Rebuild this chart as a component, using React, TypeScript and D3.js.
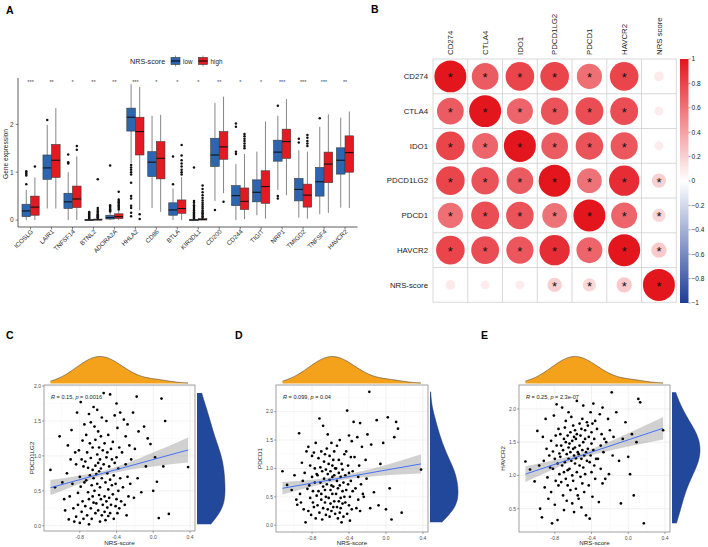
import React from 'react';
import * as d3 from 'd3';

const FONT = "'Liberation Sans', Arial, Helvetica, sans-serif";

// ---------- Panel A: checkpoint gene expression by NRS-score group ----------
const genes = ['ICOSLG', 'LAIR1', 'TNFSF14', 'BTNL2', 'ADORA2A', 'HHLA2', 'CD86', 'BTLA', 'KIR3DL1', 'CD200', 'CD244', 'TIGIT', 'NRP1', 'TMIGD2', 'TNFSF4', 'HAVCR2'];
const sigLabels = ['***', '**', '*', '**', '**', '***', '*', '*', '*', '**', '*', '*', '***', '***', '***', '**'];

const lowWhiskerLo = [0, 0.24, 0, 0, 0, 1.19, 0.25, 0, 0, 0.4, 0, 0.1, 0.63, 0.05, 0.12, 0.26];
const lowQ1 = [0.07, 0.85, 0.24, 0, 0.02, 1.86, 0.91, 0.1, 0, 1.12, 0.3, 0.38, 1.23, 0.4, 0.5, 0.96];
const lowMedian = [0.19, 1.09, 0.38, 0, 0.05, 2.15, 1.21, 0.21, 0, 1.36, 0.51, 0.58, 1.42, 0.64, 0.8, 1.25];
const lowQ3 = [0.33, 1.36, 0.56, 0.01, 0.1, 2.34, 1.43, 0.36, 0.01, 1.71, 0.72, 0.84, 1.67, 0.87, 1.1, 1.51];
const lowWhiskerHi = [0.63, 1.99, 1.0, 0.02, 0.16, 2.84, 2.18, 0.66, 0.02, 2.45, 1.17, 1.43, 2.18, 1.46, 1.95, 2.14];
const lowOutliers = [
  [1.02, 0.99, 0.96, 0.93, 0.75], [2.09], [1.37, 1.21, 1.18],
  [0.03, 0.05, 0.07, 0.09, 0.11, 0.13, 0.15, 0.17],
  [0.18, 0.2, 0.22, 0.25, 0.28, 0.31, 1.14],
  [1.15, 1.1, 1.05, 1.0, 0.95, 0.78, 0.5, 0.45, 0.3, 0.25, 0.15, 0.08],
  [], [0.75, 1.33],
  [0.03, 0.05, 0.07, 0.09, 0.11, 0.13, 0.15, 0.17, 0.2, 0.23, 0.27, 0.31, 0.36, 0.4, 1.1],
  [0.21], [1.38, 1.43, 1.95, 2.02], [], [2.39, 0.5, 0.45], [1.62, 1.7], [2.13], [],
];

const highWhiskerLo = [0, 0.24, 0, 0, 0, 0.2, 0.17, 0, 0, 0.56, 0.02, 0.03, 0.52, 0.03, 0.15, 0.25];
const highQ1 = [0.1, 0.89, 0.26, 0, 0.03, 1.36, 0.86, 0.14, 0, 1.27, 0.22, 0.35, 1.29, 0.27, 0.78, 1.0];
const highMedian = [0.27, 1.25, 0.44, 0.005, 0.07, 1.85, 1.29, 0.24, 0.01, 1.53, 0.39, 0.7, 1.64, 0.52, 1.17, 1.41];
const highQ3 = [0.5, 1.58, 0.71, 0.02, 0.13, 2.15, 1.64, 0.42, 0.03, 1.85, 0.67, 1.03, 1.9, 0.75, 1.42, 1.76];
const highWhiskerHi = [0.89, 2.34, 1.33, 0.03, 0.2, 2.78, 2.2, 0.9, 0.04, 2.58, 1.38, 2.06, 2.53, 1.43, 2.21, 2.27];
const highOutliers = [
  [1.12], [], [1.55, 1.47],
  [0.04, 0.06, 0.08, 0.1, 0.12, 0.15, 0.18, 0.21, 0.25, 0.85],
  [0.22, 0.25, 0.28, 0.31, 0.34, 0.37, 0.4, 0.43, 0.59],
  [0.12, 0.02], [], [0.95, 1.0, 1.05, 1.12, 1.18, 1.25, 1.35, 1.57],
  [0.05, 0.08, 0.11, 0.14, 0.17, 0.2, 0.24, 0.28, 0.32, 0.36, 0.41, 0.46, 0.52, 0.58, 0.65, 0.72],
  [0.38], [1.5, 1.55, 1.6, 1.65, 1.7, 1.75, 1.8], [], [], [1.55, 1.6, 1.65, 1.72, 1.78], [], [],
];
const groupNames = ['low', 'high'];
const groupColors = ['#2C66B0', '#E31A22'];

// ---------- Panel B: correlation matrix ----------
const corrRows = ['CD274', 'CTLA4', 'IDO1', 'PDCD1LG2', 'PDCD1', 'HAVCR2', 'NRS-score'];
const corrCols = ['CD274', 'CTLA4', 'IDO1', 'PDCD1LG2', 'PDCD1', 'HAVCR2', 'NRS score'];
const corrValues = [
  [1, 0.7, 0.8, 0.8, 0.62, 0.8, 0.09],
  [0.7, 1, 0.66, 0.74, 0.76, 0.76, 0.08],
  [0.8, 0.66, 1, 0.7, 0.74, 0.72, 0.08],
  [0.8, 0.74, 0.7, 1, 0.6, 0.9, 0.2],
  [0.62, 0.76, 0.74, 0.6, 1, 0.66, 0.17],
  [0.8, 0.76, 0.72, 0.9, 0.66, 1, 0.23],
  [0.09, 0.08, 0.08, 0.2, 0.17, 0.23, 1],
];
const corrSignificant = [
  [1, 1, 1, 1, 1, 1, 0],
  [1, 1, 1, 1, 1, 1, 0],
  [1, 1, 1, 1, 1, 1, 0],
  [1, 1, 1, 1, 1, 1, 1],
  [1, 1, 1, 1, 1, 1, 1],
  [1, 1, 1, 1, 1, 1, 1],
  [0, 0, 0, 1, 1, 1, 1],
];
const legendTicks = [1, 0.8, 0.6, 0.4, 0.2, 0, -0.2, -0.4, -0.6, -0.8, -1];

// ---------- Panels C-E: NRS-score vs checkpoint genes (same samples) ----------
const nrsScore = [
  -1.12, -1.07,
  -1.02, -0.99, -0.97, -0.96,
  -0.94, -0.93, -0.92, -0.91, -0.9, -0.89, -0.88, -0.87, -0.86, -0.85,
  -0.84, -0.84, -0.83, -0.82, -0.82, -0.81, -0.8, -0.8, -0.79, -0.79, -0.78, -0.78, -0.77, -0.77, -0.76, -0.76, -0.75, -0.75,
  -0.74, -0.74, -0.73, -0.73, -0.72, -0.72, -0.71, -0.71, -0.7, -0.7, -0.7, -0.69, -0.69, -0.68, -0.68, -0.68, -0.67, -0.67, -0.66, -0.66, -0.66, -0.65, -0.65, -0.65,
  -0.64, -0.64, -0.63, -0.63, -0.63, -0.62, -0.62, -0.61, -0.61, -0.61, -0.6, -0.6, -0.6, -0.59, -0.59, -0.59, -0.58, -0.58, -0.58, -0.57, -0.57, -0.57, -0.56, -0.56, -0.56, -0.55, -0.55,
  -0.54, -0.54, -0.53, -0.53, -0.53, -0.52, -0.52, -0.51, -0.51, -0.51, -0.5, -0.5, -0.5, -0.49, -0.49, -0.49, -0.48, -0.48, -0.47, -0.47, -0.47, -0.46, -0.46, -0.45, -0.45,
  -0.44, -0.44, -0.43, -0.43, -0.42, -0.42, -0.41, -0.41, -0.4, -0.4, -0.4, -0.39, -0.39, -0.38, -0.38, -0.37, -0.37, -0.36, -0.36, -0.35,
  -0.34, -0.33, -0.32, -0.31, -0.3, -0.3, -0.29, -0.28, -0.28, -0.27, -0.26, -0.25,
  -0.24, -0.22, -0.21, -0.2, -0.18, -0.17, -0.16,
  -0.13, -0.1, -0.08, -0.06,
  -0.03, 0.0, 0.02, 0.04,
  0.06, 0.09, 0.11, 0.13,
  0.17, 0.38,
];
const pdcd1lg2 = [
  0.8, 0.55,
  1.28, 0.62, 0.38, 0.22,
  0.75, 1.15, 0.09, 0.42, 0.95, 1.37, 0.6, 0.25, 0.06, 1.05,
  0.13, 0.88, 1.62, 0.47, 0.3, 1.08, 0.7, 0.04, 1.77, 0.56, 0.95, 0.2, 0.35, 1.22, 0.85, 0.1, 0.62, 1.45,
  0.92, 0.28, 1.3, 0.65, 0.15, 1.05, 0.48, 0.83, 1.6, 0.38, 0.02, 1.18, 0.72, 0.25, 0.97, 1.48, 0.58, 0.1, 1.12, 0.8, 0.42, 1.7, 0.33, 0.68,
  1.42, 0.5, 0.86, 0.18, 1.23, 0.74, 0.32, 1.02, 0.6, 1.66, 0.9, 0.22, 1.35, 0.44, 0.78, 1.12, 0.06, 0.95, 0.55, 1.28, 0.38, 0.82, 1.55, 0.15, 0.68, 1.08, 0.3,
  0.88, 1.9, 0.42, 0.2, 1.18, 0.62, 0.08, 0.98, 0.35, 1.5, 0.75, 0.26, 1.05, 0.52, 0.14, 1.3, 0.85, 0.4, 1.88, 0.66, 0.18, 1.1, 0.3, 0.58, 0.95,
  0.45, 1.2, 0.72, 0.1, 1.58, 0.9, 0.28, 0.6, 1.75, 0.38, 0.98, 0.18, 1.4, 0.82, 0.5, 1.12, 0.25, 0.68, 1.62, 0.35,
  1.05, 0.55, 1.52, 0.3, 0.88, 1.28, 0.15, 0.7, 1.45, 0.42, 1.15, 0.6,
  0.95, 1.62, 0.4, 1.1, 1.85, 0.68, 1.35,
  0.48, 1.42, 0.85, 1.25,
  1.17, 0.5, 0.98, 0.63,
  0.11, 1.82, 0.85, 1.5,
  0.17, 0.84,
];
const pdcd1 = [
  0.95, 0.71,
  0.62, 0.88, 0.45, 0.36,
  1.62, 0.55, 0.4, 1.1, 0.78, 0.28, 0.92, 0.05, 1.3, 0.64,
  1.38, 0.25, 0.7, 1.05, 0.48, 0.18, 0.85, 1.22, 0.4, 0.6, 1.28, 0.32, 1.0, 0.75, 0.12, 1.45, 0.52, 0.9,
  0.88, 0.35, 1.18, 0.6, 1.88, 0.22, 1.02, 0.75, 0.45, 1.3, 0.55, 0.1, 0.95, 1.75, 0.68, 0.3, 1.12, 0.82, 0.4, 1.25, 0.62, 0.18, 0.98, 0.5,
  0.72, 1.35, 0.28, 0.9, 1.6, 0.48, 1.08, 0.8, 0.15, 1.22, 0.62, 0.95, 0.38, 1.45, 0.7, 0.25, 1.05, 0.55, 0.85, 0.32, 1.15, 0.68, 0.42, 1.3, 0.88, 0.2, 1.0,
  0.55, 1.0, 0.32, 0.78, 1.4, 0.12, 0.65, 1.15, 0.42, 0.92, 0.22, 0.7, 1.5, 0.3, 0.85, 0.48, 0.05, 1.08, 0.6, 0.38, 0.98, 0.15, 0.75, 1.25, 0.5,
  0.88, 0.4, 1.3, 0.62, 2.02, 0.2, 1.05, 0.72, 0.35, 1.58, 0.92, 0.5, 0.08, 1.2, 0.78, 0.28, 1.48, 0.95, 0.6, 1.82,
  1.2, 0.65, 0.3, 1.55, 0.85, 0.45, 1.05, 1.8, 0.25, 0.72, 1.38, 0.55,
  0.5, 1.15, 0.82, 1.6, 2.35, 0.3, 1.42,
  0.58, 1.85, 0.35, 1.08,
  1.45, 0.28, 1.9, 0.65,
  0.1, 1.55, 1.82, 1.7,
  0.22, 0.98,
];
const havcr2 = [
  1.21, 1.09,
  0.91, 1.67, 1.15, 0.5,
  0.37, 1.58, 1.22, 0.82, 1.85, 1.4, 0.97, 0.65, 1.3, 1.12,
  1.52, 0.75, 0.28, 1.36, 1.1, 1.9, 0.56, 1.25, 1.6, 0.92, 2.07, 1.45, 0.33, 1.18, 1.7, 0.85, 1.33, 1.02,
  1.28, 1.62, 0.9, 1.45, 1.15, 2.02, 0.7, 1.38, 1.55, 1.05, 0.48, 1.72, 1.2, 0.95, 1.5, 1.82, 1.32, 0.62, 1.08, 1.6, 0.85, 1.42, 1.25, 1.95,
  1.48, 1.1, 1.65, 0.78, 1.35, 1.88, 1.22, 0.58, 1.52, 1.0, 1.4, 1.75, 0.92, 1.3, 1.58, 0.45, 1.18, 1.68, 1.42, 0.8, 1.55, 1.26, 2.12, 1.05, 1.62, 1.35, 0.7,
  1.32, 0.65, 1.78, 1.15, 1.45, 0.98, 1.6, 1.25, 0.52, 1.7, 1.38, 1.85, 0.88, 1.5, 1.12, 2.05, 1.3, 0.75, 1.55, 1.02, 1.68, 0.4, 1.35, 1.22, 1.8,
  1.4, 1.75, 0.85, 1.58, 1.2, 0.35, 1.95, 1.3, 1.65, 1.05, 1.48, 0.68, 1.78, 1.38, 2.08, 1.15, 1.55, 0.95, 1.82, 1.25,
  1.7, 1.25, 0.6, 1.92, 1.45, 1.1, 1.62, 0.88, 2.02, 1.35, 1.55, 0.95,
  1.5, 1.85, 1.02, 1.68, 2.25, 1.3, 1.58,
  1.95, 1.22, 0.58, 1.55,
  1.8, 1.28, 1.02, 1.62,
  0.7, 1.5, 2.15, 2.1,
  0.28, 1.68,
];

// fitted lm line (ends) and 95% band half widths
const fitX = [-1.12, -0.8, -0.55, -0.3, 0.0, 0.38];
const fitPdcd1lg2 = [0.545, 1.085];
const bandPdcd1lg2 = [0.11, 0.06, 0.035, 0.05, 0.1, 0.18];
const fitPdcd1 = [0.65, 1.08];
const bandPdcd1 = [0.11, 0.06, 0.04, 0.05, 0.09, 0.17];
const fitHavcr2 = [1.02, 1.71];
const bandHavcr2 = [0.12, 0.065, 0.04, 0.055, 0.1, 0.17];

// gaussian kernel density over the data range (nrd0 bandwidth, widened a bit for the smaller sample)
function kde(values: number[], adjust = 1.5, n = 128) {
  const sd = d3.deviation(values) as number;
  const iqr = (d3.quantile(values, 0.75) as number) - (d3.quantile(values, 0.25) as number);
  const bw = adjust * 0.9 * Math.min(sd, iqr / 1.34) * Math.pow(values.length, -0.2);
  const [lo, hi] = d3.extent(values) as [number, number];
  return d3.range(n).map(i => {
    const g = lo + ((hi - lo) * i) / (n - 1);
    const d = (d3.mean(values, v => Math.exp(-0.5 * ((g - v) / bw) ** 2)) as number) / bw;
    return [g, d] as [number, number];
  });
}

const PanelA = () => {
  const x = d3.scalePoint<string>().domain(genes).range([18, 357.6]).padding(0.6);
  const y = d3.scaleLinear().domain([-0.146, 2.97]).range([227, 78]);
  const step = x.step();
  const hw = 0.205 * step;
  const groups = [
    { lo: lowWhiskerLo, q1: lowQ1, med: lowMedian, q3: lowQ3, hi: lowWhiskerHi, out: lowOutliers },
    { lo: highWhiskerLo, q1: highQ1, med: highMedian, q3: highQ3, hi: highWhiskerHi, out: highOutliers },
  ];
  return (
    <g fontFamily={FONT}>
      <text x={6} y={13.5} fontSize={10.5} fontWeight="bold">A</text>
      {/* legend */}
      <text x={130} y={63.5} fontSize={7.2} fill="#222">NRS-score</text>
      {groupNames.map((g, i) => {
        const kx = i === 0 ? 171 : 198.5;
        return (
          <g key={g}>
            <line x1={kx + 4.5} x2={kx + 4.5} y1={55.5} y2={66.5} stroke="#555" strokeWidth={0.6} />
            <rect x={kx} y={57.5} width={9} height={7} fill={groupColors[i]} stroke="#333" strokeWidth={0.6} />
            <line x1={kx} x2={kx + 9} y1={61} y2={61} stroke="#000" strokeWidth={1} />
            <text x={kx + 12} y={63.5} fontSize={6.3} fill="#222">{g}</text>
          </g>
        );
      })}
      {/* axes */}
      <line x1={18} x2={18} y1={78} y2={227} stroke="#333" strokeWidth={0.8} />
      <line x1={18} x2={357.6} y1={227} y2={227} stroke="#333" strokeWidth={0.8} />
      {[0, 1, 2].map(t => (
        <g key={t}>
          <line x1={15.5} x2={18} y1={y(t)} y2={y(t)} stroke="#333" strokeWidth={0.6} />
          <text x={13.5} y={y(t) + 2.3} fontSize={6.5} textAnchor="end" fill="#333">{t}</text>
        </g>
      ))}
      <text transform="translate(7.5,154) rotate(-90)" fontSize={6.6} textAnchor="middle" fill="#222">Gene expression</text>
      {genes.map((g, gi) => {
        const cx = x(g) as number;
        return (
          <g key={g}>
            <line x1={cx} x2={cx} y1={227} y2={229.5} stroke="#333" strokeWidth={0.6} />
            <text transform={`translate(${cx + 3},${232}) rotate(-45)`} fontSize={6.3} textAnchor="end" fill="#2b2b2b">{g}</text>
            <text x={cx} y={84} fontSize={5.5} textAnchor="middle" fill="#444">{sigLabels[gi]}</text>
            {groups.map((s, k) => {
              const bx = cx + (k === 0 ? -hw : hw);
              return (
                <g key={k}>
                  <line x1={bx} x2={bx} y1={y(s.hi[gi])} y2={y(s.q3[gi])} stroke="#666" strokeWidth={0.8} />
                  <line x1={bx} x2={bx} y1={y(s.q1[gi])} y2={y(s.lo[gi])} stroke="#666" strokeWidth={0.8} />
                  <rect x={bx - hw} y={y(s.q3[gi])} width={2 * hw} height={Math.max(0.8, y(s.q1[gi]) - y(s.q3[gi]))}
                    fill={groupColors[k]} stroke="#3a3a3a" strokeWidth={0.6} />
                  <line x1={bx - hw} x2={bx + hw} y1={y(s.med[gi])} y2={y(s.med[gi])} stroke="#111" strokeWidth={1.1} />
                  {s.out[gi].map((o, j) => (
                    <circle key={j} cx={bx} cy={y(o)} r={1.25} fill="#111" />
                  ))}
                </g>
              );
            })}
          </g>
        );
      })}
    </g>
  );
};

const PanelB = () => {
  const cx = d3.scaleBand().domain(corrCols).range([433, 676.3]);
  const cy = d3.scaleBand().domain(corrRows).range([59, 302.3]);
  const bw = cx.bandwidth();
  const color = d3.scaleLinear<string>().domain([-1, 0, 1]).range(['#1E3C96', '#FFFFFF', '#E3161E']);
  const ly = d3.scaleLinear().domain([-1, 1]).range([303, 59]);
  const stops = d3.range(-1, 1.0001, 0.1);
  return (
    <g fontFamily={FONT}>
      <text x={371} y={12.5} fontSize={10.5} fontWeight="bold">B</text>
      <defs>
        <linearGradient id="corrGrad" x1="0" x2="0" y1="1" y2="0">
          {stops.map((s, i) => (
            <stop key={i} offset={`${((s + 1) / 2) * 100}%`} stopColor={color(s)} />
          ))}
        </linearGradient>
      </defs>
      {corrRows.map((r, i) =>
        corrCols.map((c, j) => {
          const v = corrValues[i][j];
          const px = (cx(c) as number) + bw / 2;
          const py = (cy(r) as number) + bw / 2;
          return (
            <g key={`${i}-${j}`}>
              <circle cx={px} cy={py} r={(0.92 * bw * Math.sqrt(Math.abs(v))) / 2} fill={color(v)} />
              {corrSignificant[i][j] ? (
                <text x={px} y={py + 6} fontSize={13} textAnchor="middle" fill="#111">*</text>
              ) : null}
            </g>
          );
        })
      )}
      {d3.range(corrCols.length + 1).map(k => (
        <g key={k}>
          <line x1={433 + k * bw} x2={433 + k * bw} y1={59} y2={302.3} stroke="#CFCFCF" strokeWidth={0.8} />
          <line x1={433} x2={676.3} y1={59 + k * bw} y2={59 + k * bw} stroke="#CFCFCF" strokeWidth={0.8} />
        </g>
      ))}
      {corrRows.map(r => (
        <text key={r} x={428} y={(cy(r) as number) + bw / 2 + 2.8} fontSize={7.8} textAnchor="end" fill="#222">{r}</text>
      ))}
      {corrCols.map(c => (
        <text key={c} transform={`translate(${(cx(c) as number) + bw / 2 + 2.8},55) rotate(-90)`} fontSize={7.8} fill="#222">{c}</text>
      ))}
      <rect x={680} y={59} width={8.5} height={244} fill="url(#corrGrad)" />
      {legendTicks.map(t => (
        <g key={t}>
          <line x1={688.5} x2={690.5} y1={ly(t)} y2={ly(t)} stroke="#444" strokeWidth={0.5} />
          <text x={691.5} y={ly(t) + 2.4} fontSize={6.6} fill="#222">{t < 0 ? `\u2212${Math.abs(t)}` : `${t}`}</text>
        </g>
      ))}
    </g>
  );
};

type ScatterProps = {
  letter: string; letterX: number;
  x0: number; x1: number; y0: number; y1: number;
  yDomain: [number, number]; yTicks: number[]; yTitle: string; yTitleX: number;
  ys: number[]; fit: number[]; band: number[]; rText: string; pText: string;
};

const Scatter = (p: ScatterProps) => {
  const x = d3.scaleLinear().domain([-1.19, 0.455]).range([p.x0, p.x1]);
  const y = d3.scaleLinear().domain(p.yDomain).range([p.y1, p.y0]);
  const xTicks = [-0.8, -0.4, 0, 0.4];
  const xMinor = [-1.0, -0.6, -0.2, 0.2];
  const yMinor = p.yTicks.map(t => t - 0.25).filter(t => t > p.yDomain[0]).concat([p.yTicks[p.yTicks.length - 1] + 0.25].filter(t => t < p.yDomain[1]));
  const n = Math.min(nrsScore.length, p.ys.length);
  const pts = d3.range(n).map(i => [nrsScore[i], p.ys[i]]);
  const fitLine = d3.scaleLinear().domain([fitX[0], fitX[fitX.length - 1]]).range(p.fit);
  const bandArea = d3.area<number>()
    .x((_, i) => x(fitX[i]))
    .y0((d, i) => y(fitLine(fitX[i]) - d))
    .y1((d, i) => y(fitLine(fitX[i]) + d))
    .curve(d3.curveMonotoneX);
  // marginal densities
  const dx = kde(nrsScore.slice(0, n), 1.6);
  const dy = kde(p.ys.slice(0, n), 1.3);
  const mx = d3.max(dx, d => d[1]) as number;
  const my = d3.max(dy, d => d[1]) as number;
  const topBase = p.y0 - 1.5;
  const topArea = d3.area<[number, number]>().x(d => x(d[0])).y0(topBase).y1(d => topBase - (d[1] / mx) * 27).curve(d3.curveBasis);
  const topLine = d3.line<[number, number]>().x(d => x(d[0])).y(d => topBase - (d[1] / mx) * 27).curve(d3.curveBasis);
  const rightBase = p.x1 + 2;
  const rightArea = d3.area<[number, number]>().y(d => y(d[0])).x0(rightBase).x1(d => rightBase + (d[1] / my) * 28).curve(d3.curveBasis);
  const rightLine = d3.line<[number, number]>().y(d => y(d[0])).x(d => rightBase + (d[1] / my) * 28).curve(d3.curveBasis);
  const fmt = (t: number) => (t === 0 ? '0.0' : t.toFixed(1));
  return (
    <g fontFamily={FONT}>
      <text x={p.letterX} y={338.5} fontSize={10.5} fontWeight="bold">{p.letter}</text>
      <path d={topArea(dx) as string} fill="#F4A21C" />
      <path d={topLine(dx) as string} fill="none" stroke="#333" strokeWidth={0.5} />
      <path d={rightArea(dy) as string} fill="#22489C" />
      <path d={rightLine(dy) as string} fill="none" stroke="#333" strokeWidth={0.5} />
      <rect x={p.x0} y={p.y0} width={p.x1 - p.x0} height={p.y1 - p.y0} fill="#fff" />
      {xMinor.map(t => <line key={`xm${t}`} x1={x(t)} x2={x(t)} y1={p.y0} y2={p.y1} stroke="#F4F4F4" strokeWidth={0.4} />)}
      {yMinor.map(t => <line key={`ym${t}`} y1={y(t)} y2={y(t)} x1={p.x0} x2={p.x1} stroke="#F4F4F4" strokeWidth={0.4} />)}
      {xTicks.map(t => <line key={`xg${t}`} x1={x(t)} x2={x(t)} y1={p.y0} y2={p.y1} stroke="#E8E8E8" strokeWidth={0.6} />)}
      {p.yTicks.map(t => <line key={`yg${t}`} y1={y(t)} y2={y(t)} x1={p.x0} x2={p.x1} stroke="#E8E8E8" strokeWidth={0.6} />)}
      <path d={bandArea(p.band) as string} fill="#999" fillOpacity={0.45} />
      {pts.map((d, i) => <circle key={i} cx={x(d[0])} cy={y(d[1])} r={1.35} fill="#000" />)}
      <line x1={x(fitX[0])} x2={x(fitX[fitX.length - 1])} y1={y(p.fit[0])} y2={y(p.fit[1])} stroke="#3366FF" strokeWidth={0.9} />
      <rect x={p.x0} y={p.y0} width={p.x1 - p.x0} height={p.y1 - p.y0} fill="none" stroke="#8A8A8A" strokeWidth={0.8} />
      <text x={p.x0 + 7} y={399} fontSize={5.6} fill="#222">
        <tspan fontStyle="italic">R</tspan> = {p.rText}, <tspan fontStyle="italic">p</tspan> = {p.pText}
      </text>
      {xTicks.map(t => (
        <g key={`xt${t}`}>
          <line x1={x(t)} x2={x(t)} y1={p.y1} y2={p.y1 + 2} stroke="#555" strokeWidth={0.5} />
          <text x={x(t)} y={p.y1 + 7.5} fontSize={5} textAnchor="middle" fill="#4D4D4D">{t < 0 ? `-${Math.abs(t).toFixed(1)}` : fmt(t)}</text>
        </g>
      ))}
      {p.yTicks.map(t => (
        <g key={`yt${t}`}>
          <line x1={p.x0 - 2} x2={p.x0} y1={y(t)} y2={y(t)} stroke="#555" strokeWidth={0.5} />
          <text x={p.x0 - 3} y={y(t) + 1.8} fontSize={5} textAnchor="end" fill="#4D4D4D">{fmt(t)}</text>
        </g>
      ))}
      <text x={(p.x0 + p.x1) / 2} y={545} fontSize={6.2} textAnchor="middle" fill="#222">NRS-score</text>
      <text transform={`translate(${p.yTitleX},${(p.y0 + p.y1) / 2}) rotate(-90)`} fontSize={6.2} textAnchor="middle" fill="#222">{p.yTitle}</text>
    </g>
  );
};

export default function App() {
  return (
    <div style={{ position: 'absolute', left: 0, top: 0, background: '#fff' }}>
      <svg width={708} height={547} viewBox="0 0 708 547" style={{ display: 'block' }}>
        <rect width={708} height={547} fill="#fff" />
        <PanelA />
        <PanelB />
        <Scatter letter="C" letterX={6} x0={44} x1={195} y0={385} y1={531} yDomain={[-0.075, 2.015]}
          yTicks={[0, 0.5, 1, 1.5, 2]} yTitle="PDCD1LG2" yTitleX={34} ys={pdcd1lg2}
          fit={fitPdcd1lg2} band={bandPdcd1lg2} rText="0.15" pText="0.0016" />
        <Scatter letter="D" letterX={235} x0={276} x1={428} y0={385} y1={532} yDomain={[-0.12, 2.47]}
          yTicks={[0, 0.5, 1, 1.5, 2]} yTitle="PDCD1" yTitleX={262} ys={pdcd1}
          fit={fitPdcd1} band={bandPdcd1} rText="0.099" pText="0.04" />
        <Scatter letter="E" letterX={481} x0={519} x1={670} y0={385} y1={532} yDomain={[0.15, 2.36]}
          yTicks={[0.5, 1, 1.5, 2]} yTitle="HAVCR2" yTitleX={505} ys={havcr2}
          fit={fitHavcr2} band={bandHavcr2} rText="0.25" pText="2.3e-07" />
      </svg>
    </div>
  );
}
